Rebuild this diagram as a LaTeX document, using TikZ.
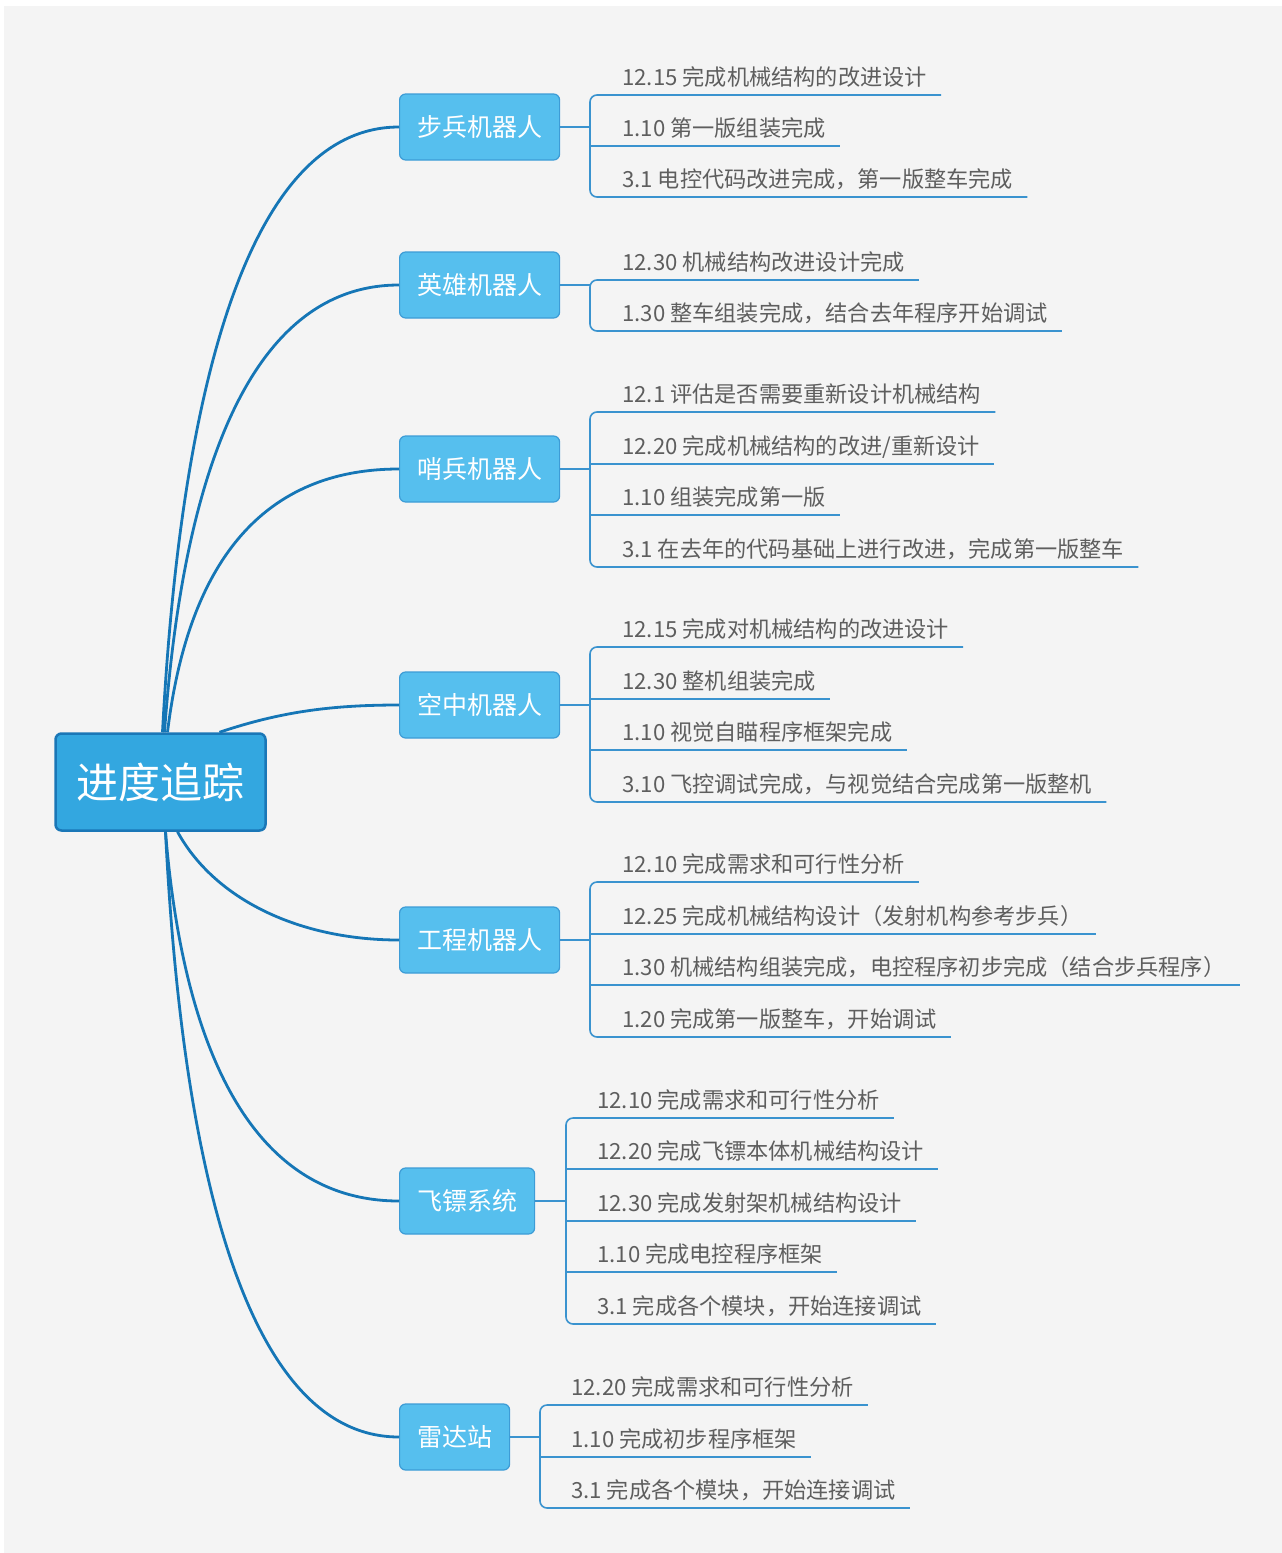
\documentclass[tikz,border=0pt]{standalone}
\usepackage{fontspec}
\setmainfont{Noto Sans CJK SC}
\usetikzlibrary{calc}

\definecolor{canvasgray}{HTML}{F4F4F4}
\definecolor{trunk}{HTML}{1576B6}
\definecolor{twigblue}{HTML}{3A93CF}
\definecolor{rootfill}{HTML}{33A7E0}
\definecolor{rootedge}{HTML}{1A77B7}
\definecolor{branchfill}{HTML}{56BFEE}
\definecolor{branchedge}{HTML}{3D9CD6}
\definecolor{leaftext}{HTML}{5E5E5E}

% one leaf: name, text x, underline y, text
\newcommand\leafnode[4]{\node[leaf] (#1) at (#2,#3-10) {#4};}
% underline of a middle leaf, from the bracket to past the text
\newcommand\leafline[2]{\draw[twig] ([yshift=-10pt]#1.base west -| #2) -- ([shift={(14pt,-10pt)}]#1.base east);}
% first and last underline joined by the rounded bracket
\newcommand\bracketpath[3]{\draw[twig,rounded corners=7pt]
  ([shift={(14pt,-10pt)}]#1.base east) -- ([yshift=-10pt]#1.base west -| #3)
  -- ([yshift=-10pt]#2.base west -| #3) -- ([shift={(14pt,-10pt)}]#2.base east);}

\begin{document}
\begin{tikzpicture}[x=1pt,y=-1pt,
  rootbox/.style={draw=rootedge, line width=2.5pt, fill=rootfill, rounded corners=6pt,
    text=white, font=\fontsize{42}{50}\selectfont, inner xsep=21pt, minimum height=97pt},
  branch/.style={draw=branchedge, line width=1.2pt, fill=branchfill, rounded corners=6pt,
    text=white, font=\fontsize{25}{30}\selectfont, inner xsep=17.5pt, minimum height=66pt, anchor=west},
  leaf/.style={anchor=base west, inner sep=0pt, text=leaftext, font=\fontsize{22.2}{26}\selectfont},
  limb/.style={draw=trunk, line width=2.8pt},
  twig/.style={draw=twigblue, line width=1.6pt},
  stub/.style={draw=twigblue, line width=2pt}]

% page and canvas
\useasboundingbox (0,0) rectangle (1282,1553);
\fill[white] (0,0) rectangle (1282,1553);
\fill[canvasgray] (4,6) rectangle (1282,1553);

% central topic and main topics
\node[rootbox] (root) at (160.5,782) {进度追踪};
\node[branch] (b1) at (399,127) {步兵机器人};
\node[branch] (b2) at (399,285) {英雄机器人};
\node[branch] (b3) at (399,469) {哨兵机器人};
\node[branch] (b4) at (399,705) {空中机器人};
\node[branch] (b5) at (399,940) {工程机器人};
\node[branch] (b6) at (399,1201) {飞镖系统};
\node[branch] (b7) at (399,1437) {雷达站};

% curved links from the central topic
\draw[limb] ([xshift=2pt]root.north) .. controls (180,400) and (245,127) .. (b1.west);
\draw[limb] ([xshift=4pt]root.north) .. controls (182,487) and (245,285) .. (b2.west);
\draw[limb] ([xshift=7pt]root.north) .. controls (185,588) and (245,469) .. (b3.west);
\draw[limb] ([xshift=59pt]root.north) .. controls (280,712) and (330,705) .. (b4.west);
\draw[limb] ([xshift=17pt]root.south) .. controls (215,900) and (300,940) .. (b5.west);
\draw[limb] ([xshift=5pt]root.south) .. controls (182,1035) and (245,1201) .. (b6.west);
\draw[limb] ([xshift=5pt]root.south) .. controls (182,1164) and (245,1437) .. (b7.west);

% bracket anchors
\coordinate (k1) at (590,127);
\coordinate (k2) at (590,285);
\coordinate (k3) at (590,469);
\coordinate (k4) at (590,705);
\coordinate (k5) at (590,940);
\coordinate (k6) at (566,1201);
\coordinate (k7) at (540,1437);

% 步兵机器人
\leafnode{l11}{622}{95}{12.15 完成机械结构的改进设计}
\leafnode{l12}{622}{146}{1.10 第一版组装完成}
\leafnode{l13}{622}{197}{3.1 电控代码改进完成，第一版整车完成}
\draw[stub] (b1.east) -- (k1);
\bracketpath{l11}{l13}{k1}
\leafline{l12}{k1}

% 英雄机器人
\leafnode{l21}{622}{280}{12.30 机械结构改进设计完成}
\leafnode{l22}{622}{331}{1.30 整车组装完成，结合去年程序开始调试}
\draw[stub] (b2.east) -- (k2);
\bracketpath{l21}{l22}{k2}

% 哨兵机器人
\leafnode{l31}{622}{412}{12.1 评估是否需要重新设计机械结构}
\leafnode{l32}{622}{464}{12.20 完成机械结构的改进/重新设计}
\leafnode{l33}{622}{515}{1.10 组装完成第一版}
\leafnode{l34}{622}{567}{3.1 在去年的代码基础上进行改进，完成第一版整车}
\draw[stub] (b3.east) -- (k3);
\bracketpath{l31}{l34}{k3}
\leafline{l32}{k3}
\leafline{l33}{k3}

% 空中机器人
\leafnode{l41}{622}{647}{12.15 完成对机械结构的改进设计}
\leafnode{l42}{622}{699}{12.30 整机组装完成}
\leafnode{l43}{622}{750}{1.10 视觉自瞄程序框架完成}
\leafnode{l44}{622}{802}{3.10 飞控调试完成，与视觉结合完成第一版整机}
\draw[stub] (b4.east) -- (k4);
\bracketpath{l41}{l44}{k4}
\leafline{l42}{k4}
\leafline{l43}{k4}

% 工程机器人
\leafnode{l51}{622}{882}{12.10 完成需求和可行性分析}
\leafnode{l52}{622}{934}{12.25 完成机械结构设计（发射机构参考步兵）}
\leafnode{l53}{622}{985}{1.30 机械结构组装完成，电控程序初步完成（结合步兵程序）}
\leafnode{l54}{622}{1037}{1.20 完成第一版整车，开始调试}
\draw[stub] (b5.east) -- (k5);
\bracketpath{l51}{l54}{k5}
\leafline{l52}{k5}
\leafline{l53}{k5}

% 飞镖系统
\leafnode{l61}{597}{1118}{12.10 完成需求和可行性分析}
\leafnode{l62}{597}{1169}{12.20 完成飞镖本体机械结构设计}
\leafnode{l63}{597}{1221}{12.30 完成发射架机械结构设计}
\leafnode{l64}{597}{1272}{1.10 完成电控程序框架}
\leafnode{l65}{597}{1324}{3.1 完成各个模块，开始连接调试}
\draw[stub] (b6.east) -- (k6);
\bracketpath{l61}{l65}{k6}
\leafline{l62}{k6}
\leafline{l63}{k6}
\leafline{l64}{k6}

% 雷达站
\leafnode{l71}{571}{1405}{12.20 完成需求和可行性分析}
\leafnode{l72}{571}{1457}{1.10 完成初步程序框架}
\leafnode{l73}{571}{1508}{3.1 完成各个模块，开始连接调试}
\draw[stub] (b7.east) -- (k7);
\bracketpath{l71}{l73}{k7}
\leafline{l72}{k7}

\end{tikzpicture}
\end{document}
